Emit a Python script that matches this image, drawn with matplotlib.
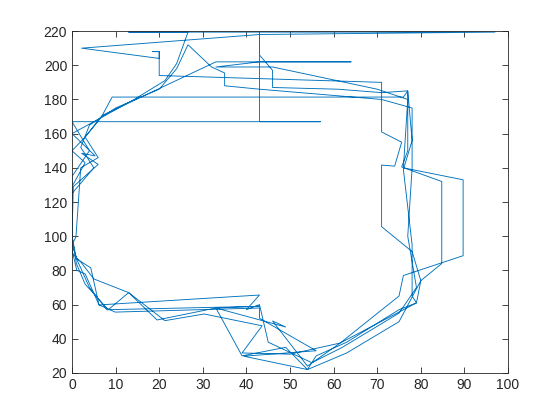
import matplotlib
matplotlib.use("Agg")
import matplotlib.pyplot as plt
import numpy as np

# Trajectory laps (x, y)
lap1_x = [0, 0, 3, 0, 3, 7, 9.2, 76, 77, 78, 76, 78, 78, 79, 75, 63, 56, 54, 49, 39, 33, 43, 8, 4, 1, 0]
lap1_y = [100, 129, 143, 150, 158, 171, 181.4, 181.4, 185, 156, 139, 95, 65, 61, 57, 38, 30, 22, 35, 30, 58, 59, 57, 70, 87, 100]

lap2_x = [0.3, 6, 2.2, 5.3, 0, 14, 21.3, 24, 26.6, 13, 97, 43, 2.2, 20, 20, 18.5, 20, 20, 71, 71, 75.6, 74, 71,
          71, 78, 80, 79, 61.5, 50, 39, 43.6, 30.3, 21.3, 13, 5, 2, 0, 0]
lap2_y = [129, 142, 148.5, 147, 160, 179.6, 191, 201, 219.4, 219.4, 219.4, 218, 210, 204, 208, 208, 208, 194, 190, 161, 155, 141, 141.6,
          105.6, 91, 74, 61, 37.5, 31, 31.7, 47.6, 54.5, 50.6, 67, 75, 85, 90, 110]

lap3_x = [0, 0, 4, 0, 57, 43, 43, 43, 46, 46, 61, 71, 77, 77, 75.6, 84.8, 84.8, 80, 75, 63, 54, 39.4, 56, 43, 43, 9.9, 6.2, 4.3, 1.1, 0]
lap3_y = [110, 135, 150, 167, 167, 167, 219.4, 206, 197, 187, 186, 184, 185, 150, 140.5, 132, 84, 74, 50, 31.7, 22, 29.8, 33, 52, 58, 55.6, 59.8, 81.5, 86.7, 95]

lap4_x = [0, 0.9, 2, 6, 3, 7.2, 33, 64, 43, 33, 46, 70, 77, 76, 89.7, 89.7, 76, 75, 61.5, 54, 46, 49, 33, 19.5, 13, 8.3, 3, 1, 0]
lap4_y = [95, 99.6, 140, 146, 158, 171, 202, 202, 202, 199, 199, 186, 180, 140, 133, 88.6, 77, 65, 37.5, 24, 50.4, 46.9, 58, 51, 67, 57, 72, 84, 100]

lap5_x = [0, 0, 5, 2, 4, 10, 20, 24, 26.6, 32, 35, 35, 43, 71, 78, 78, 77, 79, 75, 62, 55, 45, 43, 40, 43, 6.2, 3, 1.1, 0]
lap5_y = [100, 125, 140, 152, 165, 175, 186, 198, 212, 199, 195.5, 188, 186, 180, 175, 140, 100, 70, 55, 35, 26, 38, 60, 57, 65.6, 59.8, 78, 80, 92]

xs = np.concatenate([lap1_x, lap2_x, lap3_x, lap4_x, lap5_x])
ys = np.concatenate([lap1_y, lap2_y, lap3_y, lap4_y, lap5_y])

plt.rcParams['font.family'] = ['Liberation Sans', 'DejaVu Sans']
fig = plt.figure(figsize=(5.6, 4.2), dpi=100)
ax = fig.add_axes([0.1286, 0.112, 0.7786, 0.814])
ax.plot(xs, ys, color='#0072BD', lw=0.65)
ax.set_xlim(0, 100)
ax.set_ylim(20, 220)
ax.set_xticks(np.arange(0, 101, 10))
ax.set_yticks(np.arange(20, 221, 20))
ax.tick_params(direction='in', top=True, right=True, length=4, width=0.6,
               labelsize=10, colors='#262626')
for s in ax.spines.values():
    s.set_color('#262626')
    s.set_linewidth(0.6)
fig.savefig('out.png', dpi=100)
